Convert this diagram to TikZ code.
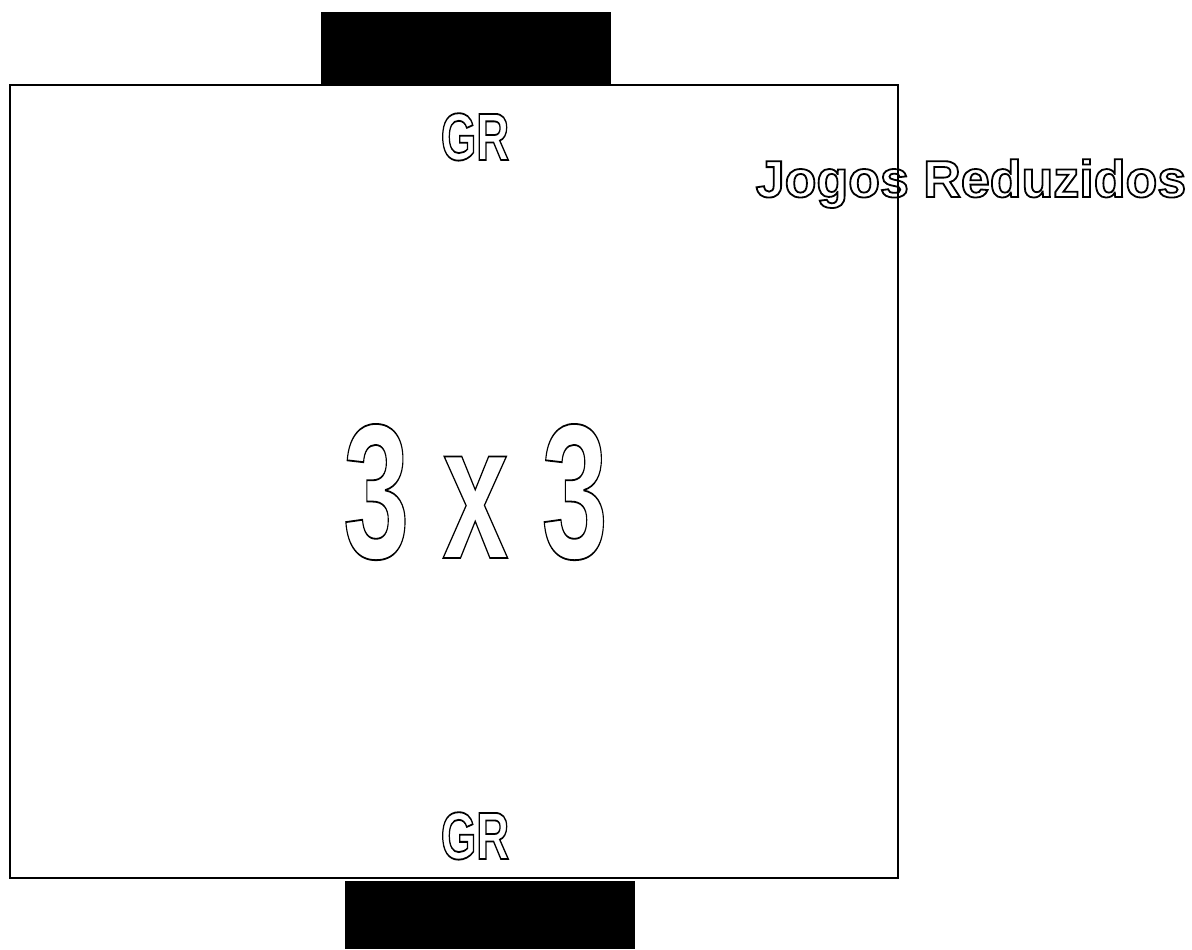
\documentclass[tikz,border=0pt]{standalone}
\usepackage{fontspec}
\usepackage{graphicx}
\setmainfont{Liberation Sans}
\usetikzlibrary{positioning}

% hollow letters: stroke the glyph outlines only
\newcommand{\hollow}[1]{\special{pdf:literal direct 1 Tr 0.9 w}#1\special{pdf:literal direct 0 Tr}}

\begin{document}
\begin{tikzpicture}[
        x=0.5pt, y=-0.5pt,
        field/.style={draw, line width=1pt, minimum width=444pt, minimum height=396.5pt, inner sep=0pt},
        goal/.style={fill=black, minimum width=145pt, inner sep=0pt},
        tag/.style={anchor=base, inner sep=0pt, font=\bfseries\fontsize{33.5}{33.5}\selectfont},
        score/.style={anchor=base, inner sep=0pt, font=\bfseries\fontsize{96}{96}\selectfont},
        title/.style={anchor=base, inner sep=0pt, font=\bfseries\fontsize{26}{26}\selectfont}
      ]
        \useasboundingbox (0,0) rectangle (1192,949);

        \node[field] (pitch) at (454,481.5) {};
        \node[goal, minimum height=36.5pt] (goaltop) at (466,48.5) {};
        \node[goal, minimum height=34pt] (goalbot) at (490,915) {};

        \node[tag] (grtop) at (475,160) {\scalebox{0.68}[1]{\hollow{GR}}};
        \node[tag] (grbot) at (475,859) {\scalebox{0.68}[1]{\hollow{GR}}};
        \node[score] (versus) at (475.5,558) {\scalebox{0.62}[1]{\hollow{3 x 3}}};
        \node[title] (caption) at (971,197) {\hollow{Jogos Reduzidos}};
      \end{tikzpicture}
\end{document}
